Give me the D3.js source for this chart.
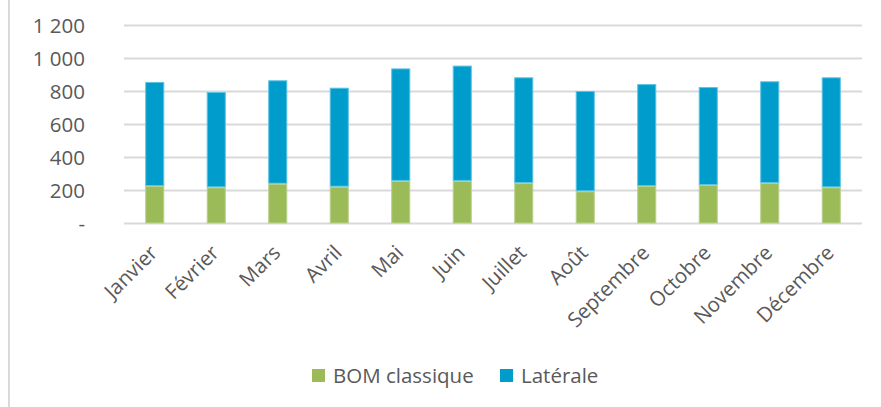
<!DOCTYPE html>
<html><head><meta charset="utf-8">
<script src="https://cdn.jsdelivr.net/npm/d3@7"></script>
<style>
body{margin:0;background:#fff;}
svg{display:block;font-family:"Open Sans",sans-serif;}
</style></head>
<body><svg id="c" width="881" height="407"></svg>
<script>
const months = ["Janvier","Février","Mars","Avril","Mai","Juin","Juillet","Août","Septembre","Octobre","Novembre","Décembre"];
const bomClassique = [227,219,241,223,258,258,245,195,227,233,245,219];
const laterale = [631,578,627,600,682,699,641,608,618,594,617,667];
const seriesNames = ["BOM classique","Latérale"];
const seriesColors = ["#9BBB59","#009CCB"];
const seriesStroke = ["#b9d08a","#5cc3e3"];
const yTicks = [0,200,400,600,800,1000,1200];
const yTickLabels = ["-","200","400","600","800","1 000","1 200"];

const svg = d3.select("#c");
const textColor = "#595959";
const fs = "20.5px";

// frame left line
svg.append("line").attr("x1",9).attr("x2",9).attr("y1",0).attr("y2",407)
  .attr("stroke","#d9d9d9").attr("stroke-width",2);

const x = d3.scaleBand().domain(months).range([124,862]).paddingInner(0.69).paddingOuter(0.345);
const y = d3.scaleLinear().domain([0,1200]).range([223.5,25.5]);

// gridlines
svg.append("g").selectAll("line").data(yTicks).join("line")
  .attr("x1",124).attr("x2",862)
  .attr("y1",d=>y(d)).attr("y2",d=>y(d))
  .attr("stroke","#d9d9d9").attr("stroke-width",2);

// y axis labels
const yAxis = d3.axisLeft(y).tickValues(yTicks).tickSize(0).tickPadding(0)
  .tickFormat((d,i)=>yTickLabels[i]);
const gy = svg.append("g").attr("transform","translate(85,0)").call(yAxis);
gy.select(".domain").remove();
gy.selectAll("text").attr("fill",textColor).style("font-size",fs)
  .style("font-family","'Open Sans',sans-serif").attr("dy","0.35em");

// stacked data
const data = months.map((m,i)=>({month:m, bom:bomClassique[i], lat:laterale[i]}));
const stack = d3.stack().keys(["bom","lat"])(data);

svg.append("g").selectAll("g").data(stack).join("g")
  .attr("fill",(d,i)=>seriesColors[i])
  .attr("stroke",(d,i)=>seriesStroke[i])
  .attr("stroke-width",1)
  .selectAll("rect").data(d=>d).join("rect")
  .attr("x",d=>x(d.data.month)+0.5)
  .attr("width",x.bandwidth()-1)
  .attr("y",d=>y(d[1])+0.5)
  .attr("height",d=>Math.max(0,y(d[0])-y(d[1])-1));

// x axis labels
const xAxis = d3.axisBottom(x).tickSize(0).tickPadding(0);
const gx = svg.append("g").attr("transform","translate(0,232)").call(xAxis);
gx.select(".domain").remove();
gx.selectAll("text")
  .attr("fill",textColor).style("font-size",fs)
  .style("font-family","'Open Sans',sans-serif")
  .attr("text-anchor","end")
  .attr("dy","0")
  .attr("y",0)
  .attr("transform","translate(4,22) rotate(-45)");

// legend
const legend = svg.append("g");
const legX = [312,500];
seriesNames.forEach((n,i)=>{
  legend.append("rect").attr("x",legX[i]).attr("y",369).attr("width",13).attr("height",13)
    .attr("fill",seriesColors[i]);
  legend.append("text").attr("x",legX[i]+21).attr("y",383).text(n)
    .attr("fill",textColor).style("font-size",fs);
});
</script></body></html>
